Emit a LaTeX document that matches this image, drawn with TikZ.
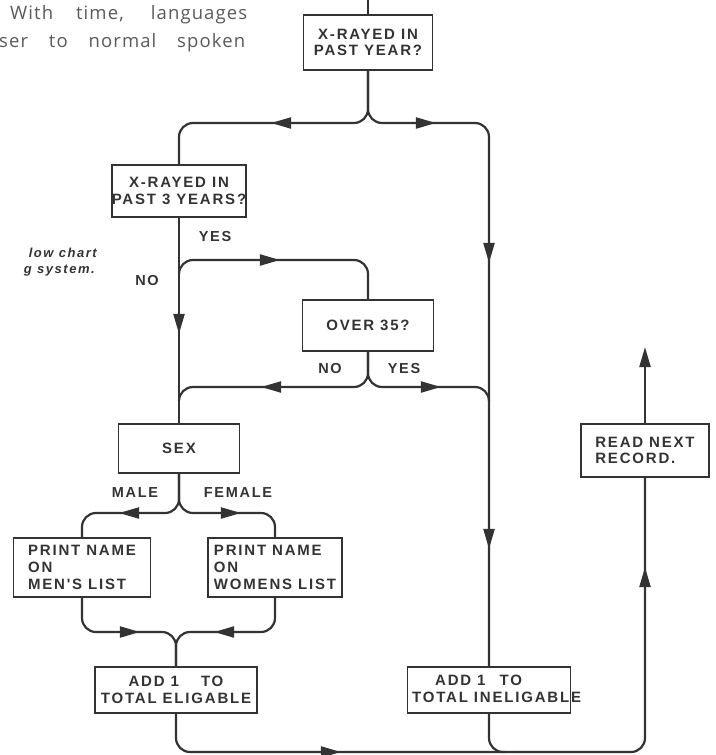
\documentclass[tikz,border=0pt]{standalone}
\usepackage{fontspec}
\setmainfont{Liberation Sans}
\newfontfamily\labfont[LetterSpace=12]{Liberation Sans}
\newfontfamily\prosefont[LetterSpace=6]{Open Sans}
\usetikzlibrary{arrows.meta,decorations.markings}
\definecolor{ink}{HTML}{333333}
\definecolor{prose}{HTML}{5A5A5A}

\begin{document}
\begin{tikzpicture}[x=1pt,y=-1pt,
  box/.style={draw=ink, line width=1.8pt, inner sep=0pt, text=ink, align=center,
    font=\labfont\bfseries\fontsize{15}{16.8}\selectfont},
  boxtext/.style={inner sep=0pt, text=ink,
    font=\labfont\bfseries\fontsize{15}{16.8}\selectfont},
  lbl/.style={inner sep=0pt, text=ink,
    font=\labfont\bfseries\fontsize{14.5}{16.5}\selectfont},
  caption/.style={inner sep=0pt, text=ink,
    font=\labfont\bfseries\itshape\fontsize{13}{16}\selectfont},
  prosetext/.style={inner sep=0pt, text=prose,
    font=\prosefont\fontsize{18.5}{22}\selectfont},
  flow/.style={draw=ink, line width=2.2pt, rounded corners=14pt},
  tip/.style={postaction={decorate,decoration={markings,
    mark=at position #1 with {\arrow{Triangle[length=20pt,width=11pt]}}}}},
]
\useasboundingbox (0,0) rectangle (715,755);

% running text of the page
\node[prosetext, anchor=base west] (line1) at (10,19.5)
  {\makebox[237pt][s]{With time, languages}};
\node[prosetext, anchor=base west] (line2) at (-1,47)
  {\makebox[246pt][s]{ser to normal spoken}};

% figure caption fragment
\node[caption, anchor=base east] (cap1) at (97,257) {low chart};
\node[caption, anchor=base east] (cap2) at (95,273) {g system.};

% process boxes
\node[box, minimum width=129pt, minimum height=55pt] (q1) at (368,42.5) {X-RAYED IN\\PAST YEAR?};
\node[box, minimum width=131pt, minimum height=52pt] (q3) at (179,191) {X-RAYED IN\\PAST 3 YEARS?};
\node[box, minimum width=131pt, minimum height=51pt] (over) at (368,325.5) {OVER 35?};
\node[box, minimum width=121pt, minimum height=49pt] (sex) at (179,448.5) {SEX};
\node[box, minimum width=137pt, minimum height=59pt, align=left] (men) at (82,567.5) {PRINT NAME\\ON\\MEN'S LIST};
\node[box, minimum width=134pt, minimum height=59pt, align=left] (women) at (275,567.5) {PRINT NAME\\ON\\WOMENS LIST};
\node[box, minimum width=162pt, minimum height=46pt] (elig) at (176,690) {ADD 1\hspace{22pt}TO\\TOTAL ELIGABLE};
\node[box, minimum width=163pt, minimum height=46pt] (inel) at (489,690) {};
\node[boxtext, align=left, anchor=west] (ineltext) at (412,688.5) {\hspace*{23pt}ADD 1\hspace{14pt}TO\\TOTAL INELIGABLE};
\node[box, minimum width=128pt, minimum height=53pt, align=left] (read) at (645,450.5) {READ NEXT\\RECORD.};

% branch labels
\node[lbl] (yes1) at (215,237) {YES};
\node[lbl] (no1) at (147,281) {NO};
\node[lbl] (no2) at (330,369) {NO};
\node[lbl] (yes2) at (404,369) {YES};
\node[lbl] (male) at (135,493) {MALE};
\node[lbl] (female) at (238,493) {FEMALE};

% free ends of the flow lines
\coordinate (entry) at (368,-3);
\coordinate (fork3) at (179,274);
\coordinate (joinL) at (179,401);
\coordinate (joinR) at (489,401);
\coordinate (joinB) at (505,752);
\coordinate (exit) at (645,347);

% connectors
\draw[flow] (entry) -- (q1.north);
\draw[flow, tip=143pt] (q1.south) -- (368,123) -- (179,123) -- (q3.north);
\draw[flow, tip=114pt, tip=301pt, tip=587pt] (q1.south) -- (368,123) -- (489,123) -- (inel.north);
\draw[flow, tip=116pt] (q3.south) -- (sex.north);
\draw[flow, tip=109pt] (fork3) -- (179,260) -- (368,260) -- (over.north);
\draw[flow, tip=136pt] (over.south) -- (368,387) -- (179,387) -- (joinL);
\draw[flow, tip=102pt] (over.south) -- (368,387) -- (489,387) -- (joinR);
\draw[flow, tip=93pt] (sex.south) -- (179,513) -- (82,513) -- (men.north);
\draw[flow, tip=95pt] (sex.south) -- (179,513) -- (275,513) -- (women.north);
\draw[flow, tip=86pt] (men.south) -- (82,632) -- (176,632) -- (elig.north);
\draw[flow, tip=89pt] (women.south) -- (275,632) -- (176,632) -- (elig.north);
\draw[flow, tip=197pt, tip=680pt] (elig.south) -- (176,752) -- (645,752) -- (read.south);
\draw[flow] (inel.south) -- (489,752) -- (joinB);
\draw[flow, -{Triangle[length=20pt,width=11pt]}] (read.north) -- (exit);
\end{tikzpicture}
\end{document}
